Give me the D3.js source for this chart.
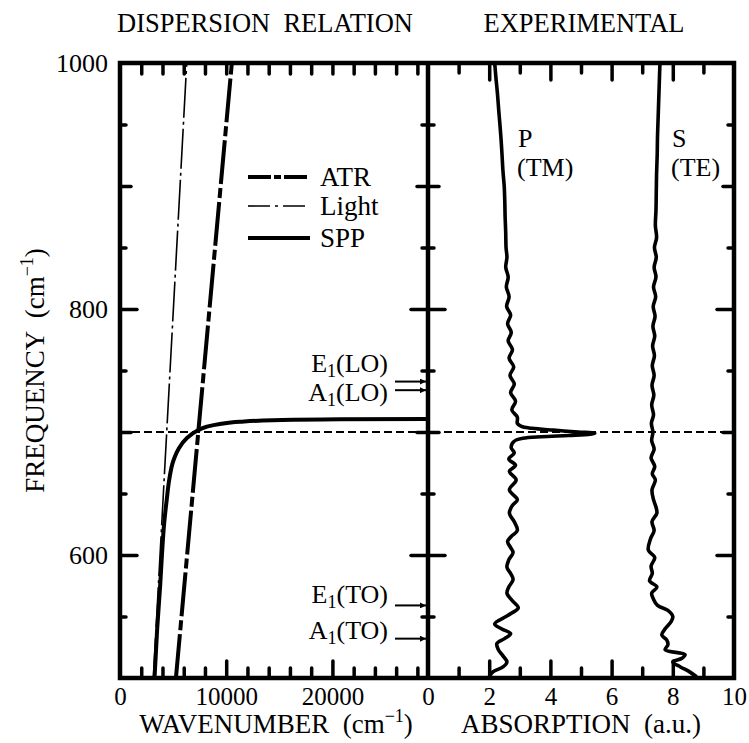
<!DOCTYPE html>
<html><head><meta charset="utf-8">
<script src="https://cdn.jsdelivr.net/npm/d3@7"></script>
<style>body{margin:0;background:#fff}</style>
</head><body><svg id="c" width="749" height="743"></svg>
<script>
// ---------- data ----------
const panelTitles = ["DISPERSION  RELATION", "EXPERIMENTAL"];
const lightLine = [[3142, 500], [6283, 1000]];       // [wavenumber, frequency]
const atrLine = [[5265, 500], [10530, 1000]];
const sppCurve = [[3250,500],[3500,540],[3780,575],[3950,600],[4150,625],[4400,645],[4650,662],
  [5000,676],[5500,686],[6280,695],[7220,700.8],[8160,704.3],[9400,706.5],[11300,708.4],
  [14400,709.5],[20700,710.3],[29000,710.6]];
const surfaceFreq = 700;
// experimental: [frequency, absorption]
const pCurve = [[1000,2.18],[988,2.22],[975,2.27],[962,2.31],[950,2.35],[937,2.39],[925,2.42],[912,2.45],
  [900,2.49],[887,2.51],[875,2.52],[862,2.54],[850,2.55],[842,2.58],[834,2.54],[826,2.62],[818,2.56],
  [810,2.65],[802,2.57],[795,2.70],[788,2.60],[781,2.72],[774,2.62],[767,2.76],[760,2.65],[753,2.80],
  [746,2.68],[739,2.82],[732,2.70],[725,2.86],[718,2.74],[712,2.92],[707,2.92],[704.5,3.05],[703,3.4],
  [701.5,4.1],[700,4.9],[699,5.45],[698.2,5.3],[697.2,4.6],[696.2,3.7],[695,3.1],[693.5,2.88],[692,2.8],
  [690,2.74],[687,2.72],[683,2.82],[678,2.64],[673,2.86],[668,2.66],[661,2.88],[653,2.66],[645,2.92],
  [640,2.75],[634,2.66],[627,2.82],[620,2.92],[615,2.72],[611,2.60],[606,2.70],[602,2.78],[596,2.64],
  [590,2.58],[585,2.70],[580,2.78],[574,2.64],[569,2.58],[563,2.75],[557,2.95],[553,2.75],[550,2.55],
  [544,2.18],[540,2.40],[536,2.70],[532,2.50],[528,2.25],[523,2.30],[518,2.45],[513,2.58],[509,2.45],
  [505,2.12],[501,2.0]];
const sCurve = [[1000,7.58],[985,7.56],[970,7.54],[955,7.52],[940,7.50],[925,7.49],[910,7.47],[895,7.46],
  [880,7.45],[868,7.43],[858,7.47],[850,7.40],[842,7.46],[834,7.39],[826,7.45],[818,7.37],[810,7.44],
  [802,7.36],[794,7.42],[786,7.35],[778,7.41],[770,7.34],[762,7.40],[754,7.33],[746,7.39],[738,7.32],
  [730,7.38],[722,7.31],[714,7.37],[707,7.30],[700,7.35],[693,7.31],[686,7.39],[679,7.29],[672,7.41],
  [666,7.33],[661,7.43],[653,7.32],[645,7.37],[639,7.45],[634,7.48],[627,7.32],[620,7.39],[613,7.27],
  [604,7.20],[598,7.41],[591,7.29],[585,7.33],[579,7.24],[574,7.48],[569,7.31],[564,7.37],[559,7.50],
  [555,7.84],[550,8.0],[546,7.95],[540,7.75],[535,7.64],[531,7.80],[527,7.84],[523,7.75],[519,8.4],
  [516,8.3],[513,8.0],[509,8.25],[505,8.55],[501,8.78]];
const phonons = [
  {base:"E", sub:"1", tail:"(LO)", freq:741, labelFreq:748.5},
  {base:"A", sub:"1", tail:"(LO)", freq:734, labelFreq:725},
  {base:"E", sub:"1", tail:"(TO)", freq:559, labelFreq:561},
  {base:"A", sub:"1", tail:"(TO)", freq:532, labelFreq:532}
];
const legendItems = ["ATR", "Light", "SPP"];
const curveLabels = [{top:"P", bottom:"(TM)"}, {top:"S", bottom:"(TE)"}];
const wavenumberLabels = [0, 10000, 20000];
const wavenumberMajor = [10000, 20000];
const wavenumberMinor = [2000,4000,6000,8000,12000,14000,16000,18000,22000,24000,26000,28000];
const absorptionLabels = [0, 2, 4, 6, 8, 10];
const absorptionMajor = [2, 4, 6, 8];
const absorptionMinor = [1, 3, 5, 7, 9];
const freqLabels = [600, 800, 1000];
const freqLong = [600, 800];
const freqMid = [700, 900];
const freqShort = [550, 650, 750, 850, 950];

// ---------- layout ----------
const FONT = "Liberation Serif, Times New Roman, serif";
const L = 120, M = 428, R = 734, T = 63, B = 678;
const svg = d3.select("#c");
svg.append("rect").attr("width",749).attr("height",743).attr("fill","#fff");

const xL = d3.scaleLinear().domain([0, 29000]).range([L, M]);
const xR = d3.scaleLinear().domain([0, 10]).range([M, R]);
const y = d3.scaleLinear().domain([500, 1000]).range([B, T]);

const defs = svg.append("defs");
defs.append("clipPath").attr("id","clipL").append("rect").attr("x",L).attr("y",T).attr("width",M-L).attr("height",B-T);
defs.append("clipPath").attr("id","clipR").append("rect").attr("x",M).attr("y",T).attr("width",R-M).attr("height",B-T);
defs.append("marker").attr("id","arr").attr("viewBox","0 0 10 10").attr("refX",10).attr("refY",5)
  .attr("markerWidth",9).attr("markerHeight",6).attr("markerUnits","userSpaceOnUse").attr("orient","auto")
  .append("path").attr("d","M0,0L10,5L0,10Z").attr("fill","#000");

// ---------- ticks ----------
function tickSet(tr, axisFn, scale, values, size) {
  const g = svg.append("g").attr("transform", tr)
    .call(axisFn(scale).tickValues(values).tickSize(size).tickFormat(""));
  g.select(".domain").remove();
  g.selectAll("line").attr("stroke","#000").attr("stroke-width",3.5).attr("stroke-linecap","round");
}
tickSet(`translate(0,${B})`, d3.axisBottom, xL, wavenumberMajor, -17);
tickSet(`translate(0,${B})`, d3.axisBottom, xL, wavenumberMinor, -10);
tickSet(`translate(0,${T})`, d3.axisTop, xL, wavenumberMajor, -11);
tickSet(`translate(0,${T})`, d3.axisTop, xL, wavenumberMinor, -11);
tickSet(`translate(0,${B})`, d3.axisBottom, xR, absorptionMajor, -17);
tickSet(`translate(0,${B})`, d3.axisBottom, xR, absorptionMinor, -10);
tickSet(`translate(0,${T})`, d3.axisTop, xR, absorptionMajor, -17);
tickSet(`translate(0,${T})`, d3.axisTop, xR, absorptionMinor, -10);
[[L, d3.axisLeft], [M, d3.axisRight], [M, d3.axisLeft], [R, d3.axisRight]].forEach(([px, fn]) => {
  tickSet(`translate(${px},0)`, fn, y, freqLong, -17);
  tickSet(`translate(${px},0)`, fn, y, freqMid, -11);
  tickSet(`translate(${px},0)`, fn, y, freqShort, -6);
});

// ---------- tick labels ----------
function labelSet(tr, axisFn, scale, values, pad, size) {
  const g = svg.append("g").attr("transform", tr)
    .call(axisFn(scale).tickValues(values).tickSize(0).tickPadding(pad).tickFormat(d3.format("d")));
  g.select(".domain").remove();
  g.attr("font-family", null).attr("font-size", null);
  g.selectAll("text").attr("font-family", FONT).attr("font-size", size).attr("fill","#000");
}
labelSet(`translate(0,${B})`, d3.axisBottom, xL, wavenumberLabels, 9, 25);
labelSet(`translate(0,${B})`, d3.axisBottom, xR, absorptionLabels, 9, 25);
labelSet(`translate(${L},0)`, d3.axisLeft, y, freqLabels, 12, 26);

// ---------- axis titles ----------
function titleWithSup(g, main) {
  g.append("tspan").text(main);
  g.append("tspan").attr("font-size",18).attr("dy",-11).text("\u22121");
  g.append("tspan").attr("dy",11).text(")");
}
const xt1 = svg.append("text").attr("x",(L+M)/2+2).attr("y",733).attr("text-anchor","middle")
  .attr("font-family",FONT).attr("font-size",27).style("white-space","pre");
titleWithSup(xt1, "WAVENUMBER  (cm");
svg.append("text").attr("x",(M+R)/2).attr("y",733).attr("text-anchor","middle")
  .attr("font-family",FONT).attr("font-size",27).style("white-space","pre").text("ABSORPTION  (a.u.)");
const yt = svg.append("text").attr("transform",`translate(44,${(T+B)/2}) rotate(-90)`).attr("text-anchor","middle")
  .attr("font-family",FONT).attr("font-size",27).style("white-space","pre");
titleWithSup(yt, "FREQUENCY  (cm");

// panel titles
svg.append("text").attr("x",265).attr("y",32).attr("text-anchor","middle")
  .attr("font-family",FONT).attr("font-size",26.5).style("white-space","pre").text(panelTitles[0]);
svg.append("text").attr("x",584).attr("y",32).attr("text-anchor","middle")
  .attr("font-family",FONT).attr("font-size",26.5).style("white-space","pre").text(panelTitles[1]);

// ---------- dispersion panel ----------
const gl = svg.append("g").attr("clip-path","url(#clipL)");
const lineK = d3.line().x(d => xL(d[0])).y(d => y(d[1]));
gl.append("path").datum(lightLine).attr("d", lineK).attr("fill","none").attr("stroke","#000")
  .attr("stroke-width",1.6).attr("stroke-dasharray","40,4,3,4");
gl.append("path").datum(atrLine).attr("d", lineK).attr("fill","none").attr("stroke","#000")
  .attr("stroke-width",4).attr("stroke-dasharray","44,4,10,4");
gl.append("path").datum(sppCurve).attr("d", lineK.curve(d3.curveMonotoneY)).attr("fill","none").attr("stroke","#000")
  .attr("stroke-width",4);

svg.append("line").attr("x1",L).attr("x2",R).attr("y1",y(surfaceFreq)).attr("y2",y(surfaceFreq))
  .attr("stroke","#000").attr("stroke-width",2.2).attr("stroke-dasharray","8,4");

// legend
const legY = [177, 206, 238];
const legStyle = [{w:4, dash:"23,3,7,3"}, {w:1.6, dash:"22,5,3,5"}, {w:4, dash:null}];
legendItems.forEach((name, i) => {
  const ln = svg.append("line").attr("x1",248).attr("x2",310).attr("y1",legY[i]).attr("y2",legY[i])
    .attr("stroke","#000").attr("stroke-width",legStyle[i].w);
  if (legStyle[i].dash) ln.attr("stroke-dasharray", legStyle[i].dash);
  svg.append("text").attr("x",320).attr("y",legY[i]+9).attr("font-family",FONT).attr("font-size",27).text(name);
});

// phonon arrows & labels
phonons.forEach(p => {
  svg.append("line").attr("x1",395).attr("x2",426).attr("y1",y(p.freq)).attr("y2",y(p.freq))
    .attr("stroke","#000").attr("stroke-width",2).attr("marker-end","url(#arr)");
  const t = svg.append("text").attr("x",388).attr("y",y(p.labelFreq)).attr("text-anchor","end")
    .attr("font-family",FONT).attr("font-size",26);
  t.append("tspan").text(p.base);
  t.append("tspan").attr("font-size",18).attr("dy",5).text(p.sub);
  t.append("tspan").attr("dy",-5).text(p.tail);
});

// ---------- experimental panel ----------
const gr = svg.append("g").attr("clip-path","url(#clipR)");
const lineA = d3.line().x(d => xR(d[1])).y(d => y(d[0])).curve(d3.curveCatmullRom.alpha(0.5));
[pCurve, sCurve].forEach(c => {
  gr.append("path").datum(c).attr("d", lineA).attr("fill","none").attr("stroke","#000")
    .attr("stroke-width",3.6).attr("stroke-linejoin","round");
});
curveLabels.forEach((c, i) => {
  const x0 = i === 0 ? 518 : 672;
  svg.append("text").attr("x",x0).attr("y",147).attr("font-family",FONT).attr("font-size",26).text(c.top);
  svg.append("text").attr("x",x0-1).attr("y",176).attr("font-family",FONT).attr("font-size",26).text(c.bottom);
});

// ---------- frame ----------
svg.append("rect").attr("x",L).attr("y",T).attr("width",R-L).attr("height",B-T)
  .attr("fill","none").attr("stroke","#000").attr("stroke-width",4.5);
svg.append("line").attr("x1",M).attr("x2",M).attr("y1",T).attr("y2",B).attr("stroke","#000").attr("stroke-width",4.5);
</script></body></html>
